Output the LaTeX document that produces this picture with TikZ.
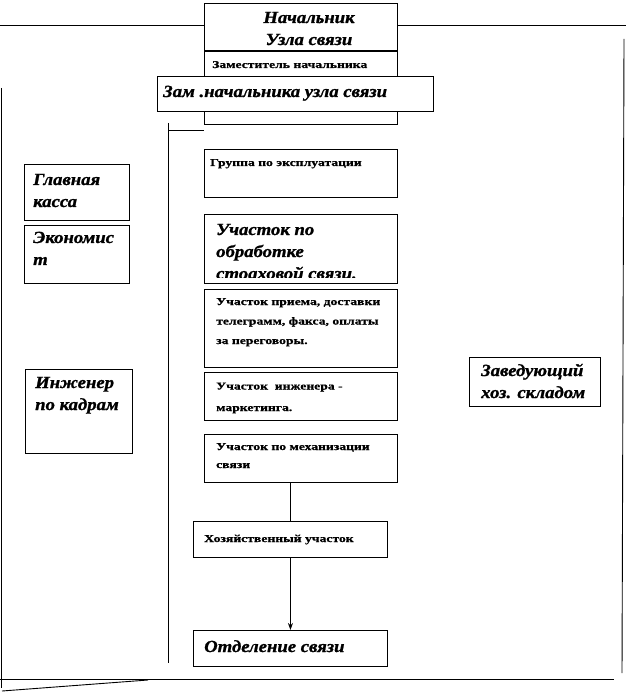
\documentclass[tikz,border=0pt]{standalone}
\usepackage{fontspec}
\setmainfont{Liberation Serif}
\newfontfamily\wideserif[FakeStretch=1.3, FakeBold=0.8]{Liberation Serif}
\newfontfamily\wideital[FakeStretch=1.1, FakeBold=1.2]{Liberation Serif}
\usetikzlibrary{arrows.meta}

\tikzset{
  box/.style={draw, line width=0.9pt, anchor=north west, inner sep=0pt},
  big/.style={anchor=base west, align=left, inner sep=0pt, font=\wideital\fontsize{17}{22}\selectfont\bfseries\itshape},
  small/.style={anchor=base west, align=left, inner sep=0pt, font=\wideserif\fontsize{10.5}{19.5}\selectfont\bfseries},
  line/.style={line width=0.9pt}
}

\begin{document}
\begin{tikzpicture}[x=1pt, y=-1pt]
    \useasboundingbox (0,0) rectangle (626,692);
    % frame
    \coordinate (tl) at (0,25);
    \coordinate (tr) at (626,25);
    \coordinate (lt) at (1,88);
    \coordinate (lb) at (1,688);
    \coordinate (rt) at (624,39);
    \coordinate (rb) at (622,673);
    \coordinate (bl) at (0,679);
    \coordinate (br) at (614,679);
    \coordinate (sl) at (2,691);
    \coordinate (sr) at (148,680);
    \coordinate (spt) at (168,123);
    \coordinate (spb) at (168,663);
    \coordinate (brl) at (168,130);
    \coordinate (brr) at (204,130);

    % boxes
    \node[box, minimum width=193, minimum height=47] (chief) at (204,3) {};
    \node[box, minimum width=193, minimum height=73] (dep) at (204,51) {};
    \node[box, fill=white, minimum width=276, minimum height=35] (zam) at (157,76) {};
    \node[box, minimum width=193, minimum height=48] (grp) at (204,149) {};
    \node[box, minimum width=193, minimum height=69] (obr) at (204,214) {};
    \node[box, minimum width=193, minimum height=78] (priem) at (204,289) {};
    \node[box, minimum width=193, minimum height=48] (mark) at (204,372) {};
    \node[box, minimum width=193, minimum height=48] (mech) at (204,434) {};
    \node[box, minimum width=194, minimum height=36] (hoz) at (193,521) {};
    \node[box, minimum width=194, minimum height=36] (otd) at (193,630) {};
    \node[box, minimum width=105, minimum height=56] (kassa) at (24,164) {};
    \node[box, minimum width=105, minimum height=58] (econ) at (24,225) {};
    \node[box, minimum width=107, minimum height=84] (kadry) at (25,369) {};
    \node[box, minimum width=131, minimum height=49] (sklad) at (469,357) {};

    % texts (anchor = baseline of the last line)
    \node[big, anchor=base, align=center] (chief-t) at (309,45) {Начальник\\Узла связи};
    \node[small] (dep-t) at (212,68) {Заместитель начальника};
    \node[big] (zam-t) at (163,97) {Зам .начальника узла связи};
    \node[small] (grp-t) at (210,166) {Группа по эксплуатации};
    \begin{scope}
        \clip (obr.north west) rectangle ([yshift=6pt]obr.south east);
        \node[big] (obr-t) at (216,279) {Участок по\\обработке\\стоаховой связи.};
    \end{scope}
    \node[small] (priem-t) at (216,344) {Участок приема, доставки\\телеграмм, факса, оплаты\\за переговоры.};
    \node[small] (mark-t) at (216,411) {Участок\ \ инженера -\\[2pt]маркетинга.};
    \node[small] (mech-t) at (216,468) {Участок по механизации\\[-1.5pt]связи};
    \node[small] (hoz-t) at (204,542) {Хозяйственный участок};
    \node[big] (otd-t) at (204,652) {Отделение связи};
    \node[big] (kassa-t) at (33,207) {Главная\\касса};
    \node[big] (econ-t) at (33,265) {Экономис\\т};
    \node[big] (kadry-t) at (35,410) {Инженер\\по кадрам};
    \node[big] (sklad-t) at (481,398) {Заведующий\\хоз. складом};

    % lines
    \draw[line] (tl) -- (chief.west |- tl);
    \draw[line] (chief.east |- tr) -- (tr);
    \draw[line] (lt) -- (lb);
    \draw[line] (rt) -- (rb);
    \draw[line] (bl) -- (br);
    \draw[line] (sl) -- (sr);
    \draw[line] (spt) -- (spb);
    \draw[line] (brl) -- (brr);
    \draw[line] (hoz.north |- mech.south) -- (hoz.north);
    \draw[line, -{Stealth[length=7pt, width=5pt]}] (hoz.south) -- (otd.north);
\end{tikzpicture}
\end{document}
